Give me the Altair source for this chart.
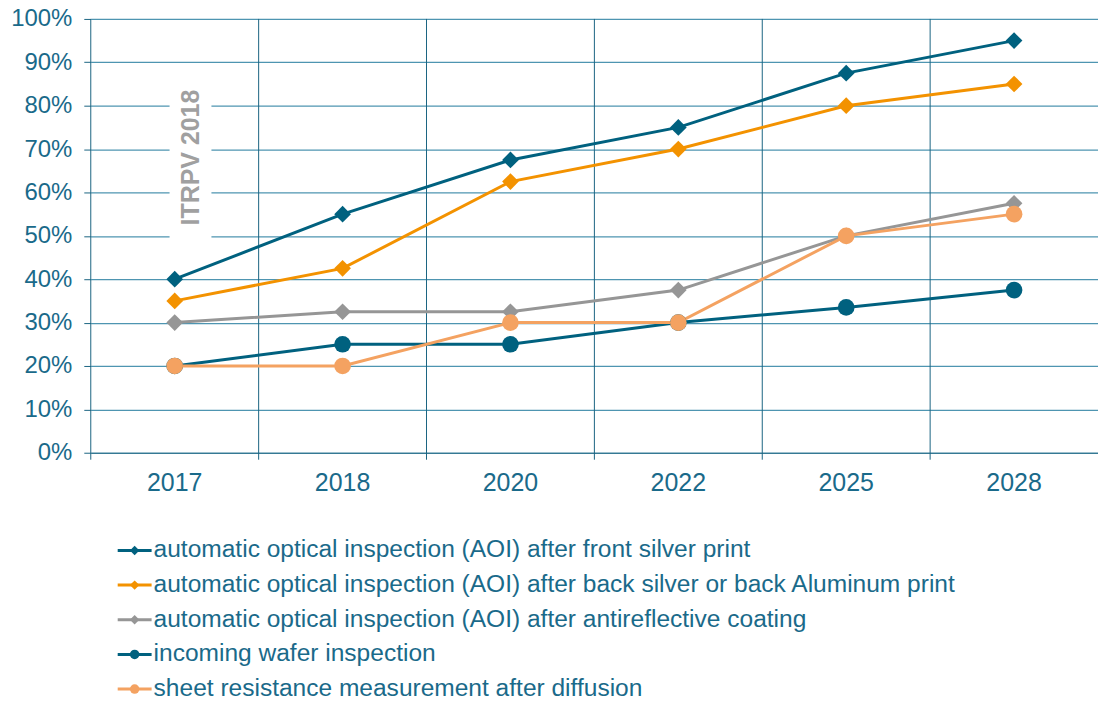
import altair as alt
import pandas as pd

# ---------------- data ----------------
years = ["2017", "2018", "2020", "2022", "2025", "2028"]
series = [
    "automatic optical inspection (AOI) after front silver print",
    "automatic optical inspection (AOI) after back silver or back Aluminum print",
    "automatic optical inspection (AOI) after antireflective coating",
    "incoming wafer inspection",
    "sheet resistance measurement after diffusion",
]
front_silver = [40, 55, 67.5, 75, 87.5, 95]
back_print = [35, 42.5, 62.5, 70, 80, 85]
antireflective = [30, 32.5, 32.5, 37.5, 50, 57.5]
incoming_wafer = [20, 25, 25, 30, 33.5, 37.5]
sheet_resistance = [20, 20, 30, 30, 50, 55]
y_ticks = [0, 10, 20, 30, 40, 50, 60, 70, 80, 90, 100]
annotation = ["ITRPV 2018"]

# ---------------- styles ----------------
colors = ["#00617F", "#F39200", "#969696", "#00617F", "#F4A261"]
shapes = ["diamond", "diamond", "diamond", "circle", "circle"]
sizes_main = [280, 280, 320, 324, 324]
sizes_legend = [90, 90, 100, 150, 150]

FONT = "Liberation Sans"
TEXT = "#1A6A8A"
DARK = "#1B6482"
GRID = "#4E95B1"
W, H = 1010, 435

all_values = [front_silver, back_print, antireflective, incoming_wafer, sheet_resistance]
rows = []
for s, vals in zip(series, all_values):
    for yr, v in zip(years, vals):
        rows.append({"series": s, "year": yr, "value": v})
df = pd.DataFrame(rows)
years_df = pd.DataFrame({"year": years})

color_enc = alt.Color("series:N", scale=alt.Scale(domain=series, range=colors), legend=None)
shape_enc = alt.Shape("series:N", scale=alt.Scale(domain=series, range=shapes), legend=None)

x_axis = alt.Axis(title=None, ticks=False, grid=False, domain=True, domainColor=DARK,
                  domainWidth=1, labelFont=FONT, labelFontSize=25, labelColor=TEXT,
                  labelPadding=18, labelAngle=0)
x_scale = alt.Scale(type="band", domain=years, paddingInner=0, paddingOuter=0)


def xenc(pos):
    return alt.X("year:N", sort=years, scale=x_scale, axis=x_axis, bandPosition=pos)


y_enc = alt.Y("value:Q", scale=alt.Scale(domain=[0, 100], nice=False),
              axis=alt.Axis(values=y_ticks, labelExpr="datum.value + '%'", title=None,
                            domain=False, ticks=True, tickColor=DARK, tickSize=7,
                            grid=True, gridColor=GRID, gridWidth=1.2,
                            labelFont=FONT, labelFontSize=24, labelColor=TEXT,
                            labelPadding=12))

vrules = alt.Chart(years_df).mark_rule(color=DARK, strokeWidth=1).encode(
    x=xenc(0), y=alt.value(0), y2=alt.value(H + 7)
)

lines = alt.Chart(df).mark_line(strokeWidth=3).encode(
    x=xenc(0.5), y=y_enc, color=color_enc, detail="series:N"
)
points = alt.Chart(df).mark_point(filled=True, opacity=1).encode(
    x=xenc(0.5), y=y_enc, color=color_enc, shape=shape_enc,
    size=alt.Size("series:N", scale=alt.Scale(domain=series, range=sizes_main), legend=None),
)

ann_df = pd.DataFrame({"t": annotation})
ann_box = alt.Chart(ann_df).mark_rect(color="white").encode(
    x=alt.value(79), x2=alt.value(121), y=alt.value(67), y2=alt.value(222)
)
ann_text = alt.Chart(ann_df).mark_text(
    angle=270, font=FONT, fontSize=25, fontWeight="bold", color="#A0A0A0",
    align="center", baseline="middle"
).encode(x=alt.value(101), y=alt.value(139), text="t:N")

main = alt.layer(vrules, ann_box, ann_text, lines, points).properties(width=W, height=H)

# ---------------- manual legend ----------------
ldf = pd.DataFrame({"series": series})
ly = alt.Y("series:N", sort=series, scale=alt.Scale(type="point", domain=series, padding=0), axis=None)
leg_lines = alt.Chart(ldf).mark_rule(strokeWidth=3).encode(
    y=ly, x=alt.value(27), x2=alt.value(61), color=color_enc
)
leg_pts = alt.Chart(ldf).mark_point(filled=True, opacity=1).encode(
    y=ly, x=alt.value(44), color=color_enc, shape=shape_enc,
    size=alt.Size("series:N", scale=alt.Scale(domain=series, range=sizes_legend), legend=None),
)
leg_text = alt.Chart(ldf).mark_text(
    align="left", baseline="middle", font=FONT, fontSize=24.6, color=TEXT
).encode(y=ly, x=alt.value(63), text="series:N")
legend = alt.layer(leg_lines, leg_pts, leg_text).properties(width=W, height=139)

chart = (
    alt.vconcat(main, legend, spacing=42)
    .resolve_scale(size="independent")
    .properties(padding={"left": 2, "top": -2, "right": 0, "bottom": 0})
    .configure_view(stroke=None)
)

chart.save("out.html", embed_options={"renderer": "svg", "actions": False})
